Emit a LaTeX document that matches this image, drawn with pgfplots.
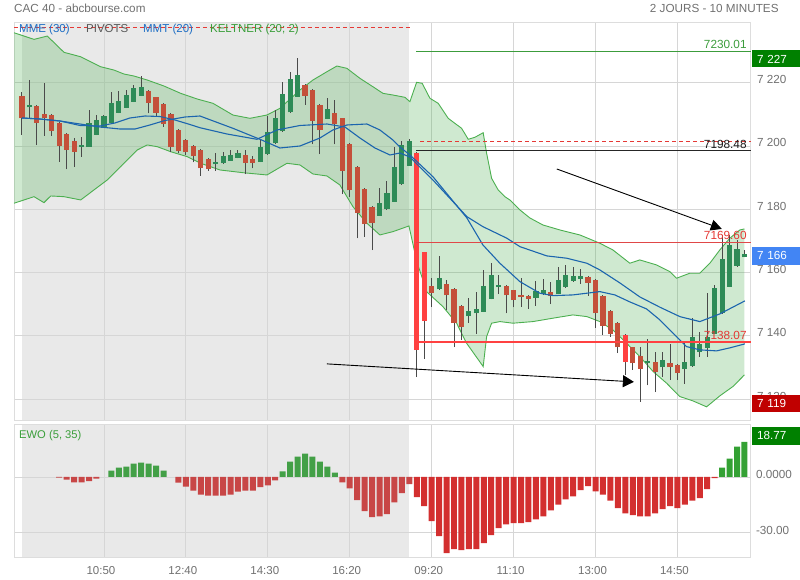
\documentclass[border=0pt]{standalone}
\usepackage{fontspec}
\setmainfont{Liberation Sans}
\usepackage{pgfplots}
\pgfplotsset{compat=1.18}
\usepackage{pgfplotstable}
\usepgfplotslibrary{fillbetween}
\usetikzlibrary{arrows.meta}

\definecolor{bgray}{HTML}{E9E9E9}
\definecolor{gridc}{HTML}{D6D6D6}
\definecolor{framec}{HTML}{DDDDDD}
\definecolor{labc}{HTML}{707070}
\definecolor{cred}{HTML}{C4503A}
\definecolor{cbred}{HTML}{FF4141}
\definecolor{cgreen}{HTML}{2E8B57}
\definecolor{wickc}{HTML}{4A4A4A}
\definecolor{mablue}{HTML}{1C65AE}
\definecolor{kgreen}{HTML}{4CAF50}
\definecolor{legblue}{HTML}{1F6FC5}
\definecolor{leggreen}{HTML}{3A9E3A}
\definecolor{ered1}{HTML}{C84646}
\definecolor{egreen1}{HTML}{43A047}
\definecolor{ered2}{HTML}{D32F2F}
\definecolor{egreen2}{HTML}{34A134}
\definecolor{pvred}{HTML}{E53935}
\definecolor{pvred2}{HTML}{E04848}
\definecolor{pvgreen}{HTML}{3C9C3C}
\definecolor{boxgreen}{HTML}{008000}
\definecolor{boxblue}{HTML}{4285F4}
\definecolor{boxred}{HTML}{C00000}

\newcommand\fs[1]{\fontsize{#1}{#1}\selectfont}

% candles: index, open, high, low, close
\pgfplotstableread{
i O H L C
1 7212.2 7220.85 7208.75 7213.0
8 7199.8 7202.9 7196.6 7200.3
9 7199.8 7211.4 7199.7 7207.4
10 7203.5 7209.8 7203.4 7208.2
11 7205.8 7209.8 7205.7 7209.5
12 7207.2 7217.2 7207.1 7213.5
13 7210.5 7217.5 7210.4 7214.2
14 7212.1 7217.7 7212.0 7216.1
15 7214.0 7219.3 7213.9 7218.2
16 7215.9 7222.1 7215.8 7218.6
26 7194.2 7197.7 7192.2 7195.0
27 7194.5 7198.2 7194.4 7196.8
28 7195.4 7198.7 7195.3 7197.2
29 7196.3 7198.7 7196.1 7197.7
32 7195.0 7202.1 7194.9 7199.6
33 7197.4 7209.5 7197.3 7204.4
34 7200.85 7211.4 7200.7 7208.75
35 7204.7 7220.2 7204.5 7216.4
36 7210.6 7223.4 7210.5 7221.1
37 7215.6 7227.8 7215.5 7222.3
41 7208.6 7215.1 7208.5 7211.6
48 7178.0 7186.6 7177.9 7181.9
49 7180.0 7188.9 7179.9 7185.05
50 7182.4 7199.8 7182.3 7193.3
51 7187.9 7201.7 7187.8 7200.3
52 7193.8 7202.2 7193.7 7201.6
56 7154.7 7165.25 7154.6 7158.3
60 7146.1 7151.9 7144.2 7147.9
61 7147.1 7154.0 7140.6 7148.5
62 7147.65 7160.8 7147.5 7155.8
63 7151.6 7162.9 7151.5 7159.2
64 7155.35 7159.2 7153.2 7156.1
69 7151.9 7157.3 7149.5 7154.2
70 7153.2 7157.9 7152.9 7154.5
72 7153.2 7161.7 7153.1 7157.7
73 7155.35 7162.4 7155.2 7159.2
74 7157.25 7161.9 7157.1 7158.9
75 7158.1 7161.0 7156.4 7158.9
84 7131.5 7139.0 7124.3 7132.1
86 7130.0 7135.0 7127.1 7132.4
89 7129.45 7137.65 7124.8 7131.65
90 7130.3 7145.6 7130.2 7139.75
91 7135.0 7141.2 7133.4 7137.4
92 7136.1 7153.55 7133.3 7139.75
93 7140.6 7156.1 7140.5 7155.1
94 7147.1 7171.9 7147.0 7164.2
95 7155.55 7171.9 7155.4 7168.7
96 7162.1 7170.3 7161.9 7167.45
97 7164.8 7167.1 7164.8 7165.9
}\cG

\pgfplotstableread{
i O H L C
0 7215.8 7217.0 7203.5 7208.75
2 7212.6 7213.0 7200.3 7207.4
3 7210.1 7219.8 7203.2 7208.75
4 7209.8 7210.2 7203.2 7204.8
5 7207.2 7207.5 7195.0 7200.1
6 7203.8 7204.0 7192.6 7198.7
7 7201.6 7202.4 7193.5 7198.2
17 7217.4 7217.6 7210.3 7213.7
18 7215.4 7215.6 7209.3 7210.5
19 7213.3 7213.5 7206.1 7206.95
20 7210.1 7210.3 7198.2 7199.6
21 7205.05 7205.3 7197.7 7198.4
22 7201.9 7202.2 7197.2 7198.0
23 7200.0 7200.3 7194.85 7196.9
24 7198.7 7199.0 7190.6 7192.95
25 7195.9 7196.2 7192.2 7192.7
30 7197.1 7198.7 7191.1 7194.7
31 7195.9 7196.8 7192.95 7194.7
38 7219.3 7219.6 7213.0 7215.9
39 7217.6 7218.0 7200.6 7208.0
40 7212.9 7213.2 7197.4 7205.0
42 7210.3 7214.5 7200.5 7207.05
43 7208.75 7209.0 7184.8 7192.2
44 7200.5 7200.8 7184.0 7186.0
45 7193.3 7193.6 7170.8 7178.9
46 7186.3 7186.6 7171.3 7175.3
47 7180.6 7181.0 7167.1 7175.6
55 7155.8 7158.2 7149.2 7153.65
57 7156.4 7157.7 7148.0 7152.8
58 7154.7 7155.0 7136.4 7144.0
59 7149.45 7149.7 7138.7 7142.9
65 7155.8 7156.0 7147.1 7152.8
66 7154.4 7154.6 7149.0 7151.3
67 7152.9 7158.2 7149.2 7152.2
68 7152.6 7152.8 7148.5 7151.6
71 7153.8 7157.1 7150.0 7152.6
76 7158.6 7158.8 7152.6 7156.8
77 7157.7 7158.0 7142.5 7147.1
78 7152.6 7152.9 7140.3 7143.1
79 7147.9 7148.2 7139.75 7140.5
80 7144.0 7144.3 7134.5 7136.3
82 7136.3 7136.6 7129.2 7131.3
83 7133.65 7136.6 7119.2 7129.45
85 7131.65 7135.0 7122.2 7128.5
87 7131.5 7137.4 7126.1 7130.0
88 7130.7 7131.0 7126.1 7128.2
}\cR

\pgfplotstableread{
i O H L C
53 7197.7 7198.2 7126.9 7135.5
54 7166.4 7166.6 7132.7 7144.8
81 7140.3 7140.6 7127.6 7131.85
}\cB

% EWO (5, 35)
\pgfplotstableread{
i v
5 -0.4
6 -1.4
7 -2.9
8 -2.9
9 -2.3
10 -0.9
21 -3.0
22 -5.2
23 -7.3
24 -9.5
25 -10.0
26 -10.0
27 -10.0
28 -9.5
29 -7.9
30 -7.3
31 -7.3
32 -5.5
33 -4.6
34 -1.8
43 -2.9
44 -6.1
45 -12.5
46 -18.4
47 -21.6
48 -21.1
49 -20.0
50 -13.6
51 -8.75
52 -3.9
}\eRa

\pgfplotstableread{
i v
12 3.4
13 5.0
14 5.5
15 7.1
16 7.7
17 7.1
18 6.1
19 3.4
35 3.0
36 8.2
37 10.9
38 12.5
39 10.9
40 8.2
41 5.5
42 2.3
}\eGa

\pgfplotstableread{
i v
53 -10.9
54 -15.7
55 -23.75
56 -31.8
57 -40.9
58 -38.75
59 -39.3
60 -38.75
61 -38.75
62 -35.5
63 -31.25
64 -27.5
65 -25.4
66 -24.8
67 -24.8
68 -24.3
69 -22.7
70 -21.1
71 -17.9
72 -14.8
73 -12.1
74 -10.4
75 -7.1
76 -5.0
77 -7.7
78 -9.5
79 -12.7
80 -16.8
81 -19.5
82 -20.5
83 -21.1
84 -21.1
85 -19.5
86 -17.3
87 -15.7
88 -16.8
89 -14.8
90 -12.7
91 -11.4
92 -6.6
93 -0.7
}\eRb

\pgfplotstableread{
i v
94 5.0
95 9.8
96 16.25
97 18.77
}\eGb

\begin{document}
\begin{tikzpicture}[x=1pt,y=1pt]
\path (0,0) rectangle (800,580);

% ---------------- price panel ----------------
\begin{axis}[
  at={(14pt,159pt)}, anchor=south west, scale only axis,
  width=737pt, height=399pt,
  xmin=-1.074, xmax=97.85, ymin=7113.1, ymax=7239.2,
  set layers,
  axis line style={draw=framec, line width=0.8pt},
  xtick={11,22,...,88}, xticklabels={},
  ytick={7120,7140,...,7220},
  yticklabels={7 120,7 140,7 160,7 180,7 200,7 220},
  yticklabel pos=right,
  major tick length=0pt,
  grid=major, grid style={gridc, line width=0.8pt},
  yticklabel style={anchor=base west, inner sep=0pt, xshift=6pt, yshift=-1pt,
    font=\fs{11.7}, text=labc},
]
\begin{pgfonlayer}{axis background}
\fill[bgray] (axis cs:0,7113.1) rectangle (axis cs:52,7239.2);
\end{pgfonlayer}

% Keltner (20; 2)
\addplot[name path=ku, kgreen, line width=0.9pt, forget plot] coordinates {
(-1.07,7235.80) (1.61,7233.71) (3.40,7234.75) (5.64,7229.61) (7.88,7228.21)
(9.22,7226.63) (10.56,7225.06) (12.35,7224.01) (13.69,7222.75) (15.03,7222.12)
(16.82,7220.85) (19.06,7218.96) (21.30,7216.65) (23.53,7214.85) (25.64,7213.49)
(28.32,7209.79) (30.60,7208.75) (32.89,7209.79) (34.63,7211.91) (37.32,7217.69)
(39.06,7220.85) (40.94,7223.48) (42.28,7225.28) (43.62,7224.55) (45.37,7221.39)
(47.11,7218.74) (48.46,7216.65) (49.80,7216.11) (51.41,7215.39) (52.08,7214.00)
(52.98,7220.13) (53.73,7219.81) (54.77,7215.07) (55.88,7213.49) (57.22,7208.75)
(58.12,7207.17) (59.02,7205.59) (59.91,7202.12) (60.81,7202.75) (61.92,7204.20)
(62.38,7197.69) (63.05,7189.79) (63.93,7186.10) (64.83,7183.98)
(65.50,7182.94) (66.85,7179.78) (68.19,7177.25) (69.93,7175.04) (72.21,7173.46)
(74.90,7171.88) (77.58,7169.26) (79.33,7167.14) (81.61,7162.94) (82.95,7163.98)
(85.19,7162.40) (86.98,7160.28) (87.88,7158.20) (89.66,7159.78) (91.01,7159.78)
(92.35,7162.94) (93.69,7167.14) (95.03,7170.84) (96.38,7173.46) (97.00,7173.78)
};
\addplot[name path=kl, kgreen, line width=0.9pt, forget plot] coordinates {
(-1.07,7181.90) (1.61,7183.98) (2.95,7182.09) (3.85,7184.20) (5.64,7183.98)
(7.88,7182.94) (9.66,7186.10) (11.45,7189.26) (13.25,7193.46) (15.48,7198.74)
(16.82,7200.32) (18.16,7199.78) (19.96,7198.20) (22.19,7196.62) (23.99,7194.53)
(26.58,7192.42) (29.66,7191.56) (32.89,7190.84) (35.57,7194.53) (37.32,7194.00)
(39.06,7191.15) (40.94,7190.52) (42.68,7187.68) (44.43,7180.82) (46.31,7175.58)
(48.05,7171.88) (49.80,7172.92) (51.95,7174.72) (53.02,7163.35) (54.36,7153.87)
(56.51,7149.23) (58.35,7143.98) (59.69,7137.66) (61.92,7130.27) (62.38,7139.75)
(63.05,7143.98) (64.16,7144.49) (65.91,7143.98) (68.59,7144.49) (71.28,7145.56)
(73.96,7146.60) (75.84,7146.07) (77.58,7144.49) (79.33,7141.86) (81.17,7137.66)
(82.95,7133.43) (84.74,7128.69) (86.54,7125.02) (88.32,7120.79) (90.07,7119.43)
(91.91,7117.54) (93.69,7121.01) (95.44,7123.95) (97.00,7127.65)
};
\addplot[kgreen, fill opacity=0.27, draw=none, forget plot] fill between[of=ku and kl];

% candles: wicks
\addplot[draw=none, forget plot, error bars/.cd, y dir=plus, y explicit, error mark=none,
  error bar style={draw=wickc, line width=1pt}]
  table[x=i, y=L, y error plus expr=\thisrow{H}-\thisrow{L}] \cG;
\addplot[draw=none, forget plot, error bars/.cd, y dir=plus, y explicit, error mark=none,
  error bar style={draw=wickc, line width=1pt}]
  table[x=i, y=L, y error plus expr=\thisrow{H}-\thisrow{L}] \cR;
\addplot[draw=none, forget plot, error bars/.cd, y dir=plus, y explicit, error mark=none,
  error bar style={draw=wickc, line width=1pt}]
  table[x=i, y=L, y error plus expr=\thisrow{H}-\thisrow{L}] \cB;
% candles: bodies
\addplot[draw=none, forget plot, error bars/.cd, y dir=plus, y explicit, error mark=none,
  error bar style={draw=cgreen, line width=5.2pt}]
  table[x=i, y expr={min(\thisrow{O},\thisrow{C})},
        y error plus expr={max(abs(\thisrow{C}-\thisrow{O}),0.6)}] \cG;
\addplot[draw=none, forget plot, error bars/.cd, y dir=plus, y explicit, error mark=none,
  error bar style={draw=cred, line width=5.2pt}]
  table[x=i, y expr={min(\thisrow{O},\thisrow{C})},
        y error plus expr={max(abs(\thisrow{C}-\thisrow{O}),0.6)}] \cR;
\addplot[draw=none, forget plot, error bars/.cd, y dir=plus, y explicit, error mark=none,
  error bar style={draw=cbred, line width=5.2pt}]
  table[x=i, y expr={min(\thisrow{O},\thisrow{C})},
        y error plus expr={max(abs(\thisrow{C}-\thisrow{O}),0.6)}] \cB;

% MME (30) / MMT (20)
\addplot[mablue, line width=1.1pt] coordinates {
(0,7208.85) (2.42,7208.53) (5.10,7207.90) (7.79,7206.95) (10.47,7206.00)
(13.15,7205.37) (15.17,7205.37) (17.18,7206.64) (19.19,7208.06) (21.88,7209.16)
(23.89,7209.48) (28.32,7205.59) (31.95,7202.12) (34.63,7199.37) (37.32,7200.00)
(40.00,7202.53) (41.74,7205.06) (43.62,7206.64) (46.31,7206.95) (48.05,7205.06)
(49.80,7201.90) (50.74,7199.68) (52.08,7197.16) (55.17,7190.30) (59.73,7177.25)
(61.88,7168.72) (64.16,7162.94) (66.85,7157.12) (69.53,7153.46) (71.28,7152.70)
(73.96,7152.92) (77.58,7153.97) (79.60,7152.92) (81.61,7150.71) (83.85,7148.50)
(85.64,7145.02) (87.38,7140.92) (89.22,7136.59) (91.01,7135.55) (93.25,7135.23)
(95.03,7136.18) (97.05,7137.44)
};
\addplot[mablue, line width=1.1pt] coordinates {
(0,7208.85) (2.42,7208.53) (5.10,7207.90) (7.79,7206.48) (10.47,7206.32)
(12.48,7207.27) (14.50,7208.85) (16.51,7209.48) (18.52,7209.32) (20.54,7208.21)
(22.55,7206.79) (23.89,7205.78) (27.52,7203.79) (31.54,7202.12) (34.23,7205.06)
(37.32,7206.48) (40.94,7206.95) (43.36,7206.00) (45.37,7202.53) (47.38,7199.37)
(49.40,7197.16) (50.74,7197.79) (52.08,7196.52) (55.17,7189.26) (59.73,7177.66)
(61.88,7174.50) (65.10,7170.84) (66.85,7168.18) (70.47,7165.25) (73.15,7164.52)
(75.84,7162.94) (77.58,7160.82) (80.27,7156.71) (82.95,7152.29) (85.64,7149.04)
(88.32,7146.07) (91.01,7144.49) (93.69,7146.92) (97.05,7151.03)
};

% pivots
\addplot[pvred, line width=0.8pt, dash pattern=on 4pt off 3pt] coordinates {(-1.07,7237.5) (52.1,7237.5)};
\addplot[pvgreen, line width=0.8pt] coordinates {(52.95,7230.01) (97.85,7230.01)};
\addplot[pvred, line width=0.8pt, dash pattern=on 4pt off 3pt] coordinates {(53.5,7201.6) (97.85,7201.6)};
\addplot[black!85, line width=0.9pt] coordinates {(52.95,7198.48) (97.85,7198.48)};
\addplot[pvred2, line width=0.8pt] coordinates {(52.95,7169.60) (97.85,7169.60)};
\addplot[cbred, line width=1.8pt] coordinates {(52.95,7138.07) (97.85,7138.07)};

% annotation arrows
\draw[black, line width=0.9pt, -{Triangle[length=11pt,width=11pt]}]
  (axis cs:71.8,7192.73) -- (axis cs:93.96,7173.78);
\draw[black, line width=0.9pt, -{Triangle[length=11pt,width=12pt]}]
  (axis cs:40.94,7131.12) -- (axis cs:82.15,7125.43);
\end{axis}

% ---------------- EWO panel ----------------
\begin{axis}[
  at={(14pt,22pt)}, anchor=south west, scale only axis,
  width=737pt, height=133pt,
  xmin=-1.074, xmax=97.85, ymin=-43.4, ymax=27.9,
  set layers,
  axis line style={draw=framec, line width=0.8pt},
  xtick={11,22,...,88},
  xticklabels={10:50,12:40,14:30,16:20,09:20,11:10,13:00,14:50},
  xticklabel style={anchor=base, inner sep=0pt, yshift=-17pt, xshift=-3pt,
    font=\fs{11.5}, text=labc},
  ytick={-30,0}, yticklabels={-30.00,0.0000},
  yticklabel pos=right,
  yticklabel style={anchor=base west, inner sep=0pt, xshift=5pt, yshift=-2pt,
    font=\fs{11.7}, text=labc},
  major tick length=0pt,
  grid=major, grid style={gridc, line width=0.8pt},
]
\begin{pgfonlayer}{axis background}
\fill[bgray] (axis cs:0,-43.4) rectangle (axis cs:52,27.9);
\end{pgfonlayer}
\addplot[ybar, bar width=6pt, bar shift=0pt, fill=ered1, draw=none] table[x=i,y=v] \eRa;
\addplot[ybar, bar width=6pt, bar shift=0pt, fill=egreen1, draw=none] table[x=i,y=v] \eGa;
\addplot[ybar, bar width=6pt, bar shift=0pt, fill=ered2, draw=none] table[x=i,y=v] \eRb;
\addplot[ybar, bar width=6pt, bar shift=0pt, fill=egreen2, draw=none] table[x=i,y=v] \eGb;
\end{axis}

% ---------------- texts ----------------
\node[anchor=base west, inner sep=0pt, text=labc, font=\fs{11.7}] at (14,567.3) {CAC 40 - abcbourse.com};
\node[anchor=base east, inner sep=0pt, text=labc, font=\fs{11.7}] at (779,567.3) {2 JOURS - 10 MINUTES};

\node[anchor=base west, inner sep=0pt, text=legblue, font=\fs{11.5}] at (19,547.7) {MME (30)};
\node[anchor=base west, inner sep=0pt, text=black!65, font=\fs{11.5}] at (86,547.7) {PIVOTS};
\node[anchor=base west, inner sep=0pt, text=legblue, font=\fs{11.5}] at (143,547.7) {MMT (20)};
\node[anchor=base west, inner sep=0pt, text=leggreen, font=\fs{11.5}] at (210,547.7) {KELTNER (20; 2)};
\node[anchor=base west, inner sep=0pt, text=leggreen, font=\fs{11.2}] at (19,141.5) {EWO (5, 35)};

% pivot labels
\node[anchor=base east, inner sep=0pt, text=pvgreen, font=\fs{11.8}] at (747,531.7) {7230.01};
\node[anchor=base east, inner sep=0pt, text=black!90, font=\fs{11.8}] at (747,431.7) {7198.48};
\node[anchor=base east, inner sep=0pt, text=pvred, font=\fs{11.8}] at (747,340.7) {7169.60};
\node[anchor=base east, inner sep=0pt, text=pvred, font=\fs{11.8}] at (747,240.5) {7138.07};

% last value boxes
\node[anchor=west, fill=boxgreen, text=white, minimum height=17pt, text width=38pt, inner xsep=5pt, inner ysep=0pt, align=left, font=\fs{11.7}] at (752,521) {7 227};
\node[anchor=west, fill=boxblue, text=white, minimum height=18pt, text width=38pt, inner xsep=5pt, inner ysep=0pt, align=left, font=\fs{11.7}] at (752,324) {7 166};
\node[anchor=west, fill=boxred, text=white, minimum height=17pt, text width=38pt, inner xsep=5pt, inner ysep=0pt, align=left, font=\fs{11.7}] at (752,176.5) {7 119};
\node[anchor=west, fill=boxgreen, text=white, minimum height=18pt, text width=38pt, inner xsep=5pt, inner ysep=0pt, align=left, font=\fs{11.7}] at (752,144) {18.77};
\useasboundingbox (0,0) rectangle (800,580);
\end{tikzpicture}
\end{document}
